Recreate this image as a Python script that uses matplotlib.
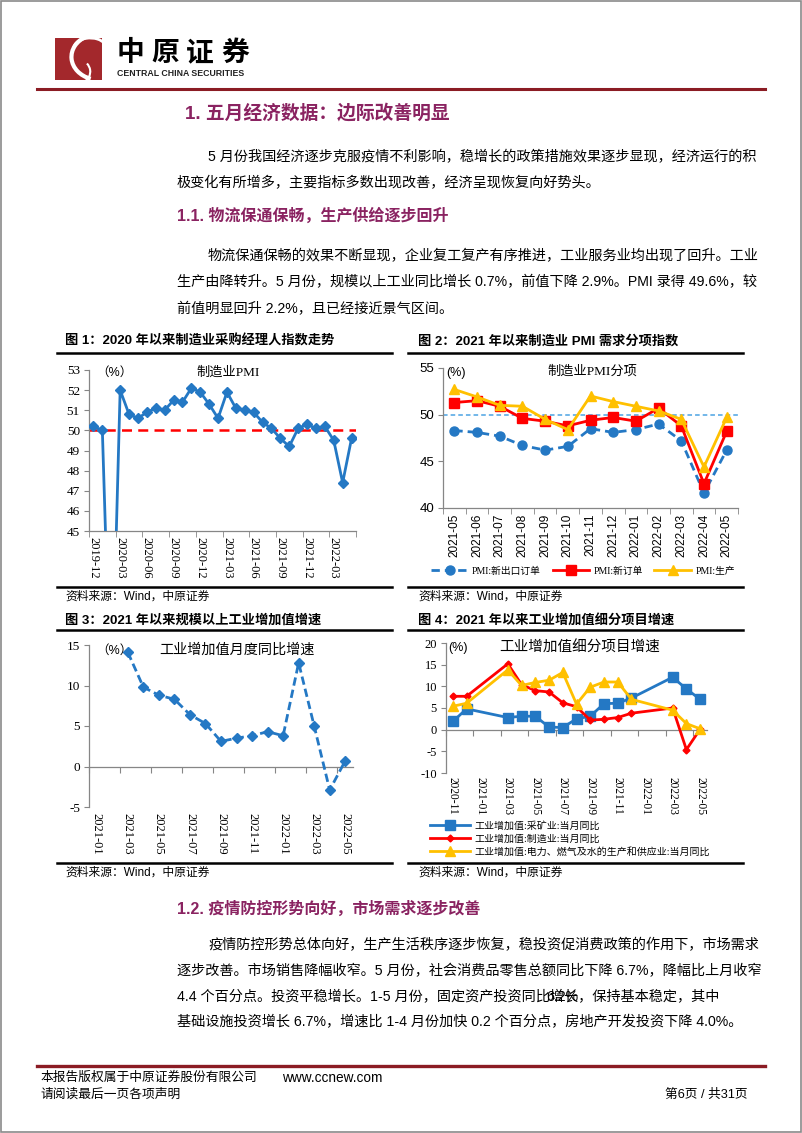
import numpy as np
import matplotlib
matplotlib.use("Agg")
import matplotlib.pyplot as plt
from matplotlib.lines import Line2D
from matplotlib.patches import Rectangle, Arc

# page size in pixels
W, H = 802, 1133

SANS = ['Liberation Sans', 'Noto Sans CJK SC']
SERIF = ['Liberation Serif', 'Noto Sans CJK SC']
GRAY = '#868686'
BLUE = '#2478C4'
RED = '#FF0000'
GOLD = '#FFC000'
HEAD = '#8A2361'
DARKRED = '#8B1C24'

# ---- 图1: 制造业PMI (2019-12 .. 2022-05)
pmi = [50.2, 50.0, 35.7, 52.0, 50.8, 50.6, 50.9, 51.1, 51.0, 51.5,
       51.4, 52.1, 51.9, 51.3, 50.6, 51.9, 51.1, 51.0, 50.9, 50.4,
       50.1, 49.6, 49.2, 50.1, 50.3, 50.1, 50.2, 49.5, 47.4, 49.6]
pmi_ticklabels = ['2019-12', '2020-03', '2020-06', '2020-09', '2020-12',
                  '2021-03', '2021-06', '2021-09', '2021-12', '2022-03']

# ---- 图2: PMI分项 (2021-05 .. 2022-05)
sub_months = ['2021-05', '2021-06', '2021-07', '2021-08', '2021-09', '2021-10', '2021-11',
              '2021-12', '2022-01', '2022-02', '2022-03', '2022-04', '2022-05']
pmi_export = [48.3, 48.1, 47.7, 46.7, 46.2, 46.6, 48.5, 48.1, 48.4, 49.0, 47.2, 41.6, 46.2]
pmi_neworder = [51.3, 51.5, 50.9, 49.6, 49.3, 48.8, 49.4, 49.7, 49.3, 50.7, 48.8, 42.6, 48.2]
pmi_output = [52.7, 51.9, 51.0, 50.9, 49.5, 48.4, 52.0, 51.4, 50.9, 50.4, 49.5, 44.4, 49.7]

# ---- 图3: 工业增加值当月同比 (2021-01 .. 2022-05)
ip_yoy = [np.nan, np.nan, 14.1, 9.8, 8.8, 8.3, 6.4, 5.3, 3.1, 3.5,
          3.8, 4.3, 3.8, 12.8, 5.0, -2.9, 0.7]
ip_ticklabels = ['2021-01', '2021-03', '2021-05', '2021-07', '2021-09',
                 '2021-11', '2022-01', '2022-03', '2022-05']

# ---- 图4: 细分项目 (2020-11 .. 2022-05)
mining = [1.9, 4.8, np.nan, np.nan, 2.8, 3.1, 3.1, 0.6, 0.5, 2.5,
          3.1, 6.0, 6.1, 7.3, np.nan, np.nan, 12.1, 9.4, 7.0]
manuf = [7.7, 7.7, np.nan, np.nan, 15.2, 10.4, 9.0, 8.7, 6.2, 5.3,
         2.2, 2.4, 2.8, 3.8, np.nan, np.nan, 5.0, -4.6, 0.1]
utility = [5.4, 6.1, np.nan, np.nan, 13.8, 10.2, 10.9, 11.4, 13.2, 5.9,
           9.8, 11.0, 11.0, 7.0, np.nan, np.nan, 4.5, 1.4, 0.2]
seg_ticklabels = ['2020-11', '2021-01', '2021-03', '2021-05', '2021-07',
                  '2021-09', '2021-11', '2022-01', '2022-03', '2022-05']

fig = plt.figure(figsize=(W / 100, H / 100), dpi=100)


def fx(x):
    return x / W


def fy(y):
    return 1 - y / H


def rect(l, t, r, b):
    return [fx(l), fy(b), (r - l) / W, (b - t) / H]


def hline(x0, x1, y, color='black', lw=1.5):
    fig.add_artist(Line2D([fx(x0), fx(x1)], [fy(y), fy(y)], transform=fig.transFigure,
                          color=color, lw=lw))


def txt(x, y, s, size=10.2, family=SANS, color='black', weight='normal', ha='left', va='center'):
    return fig.text(fx(x), fy(y), s, fontsize=size, family=family, color=color,
                    fontweight=weight, ha=ha, va=va)


# page frame
fig.add_artist(Rectangle((0.0008, 0.001), 0.998, 0.998, transform=fig.transFigure,
                         fill=False, edgecolor='#8a8a8a', lw=1.2))

# ---- header / logo
lax = fig.add_axes(rect(55, 38, 102, 80))
lax.set_xlim(0, 1)
lax.set_ylim(0, 1)
lax.axis('off')
lax.add_patch(Rectangle((0, 0), 1, 1, color='#A3282C'))
lax.add_patch(Arc((0.95, 0.55), 1.2, 1.1, theta1=120, theta2=250, color='white', lw=3))
lax.add_patch(Arc((0.75, 0.75), 0.7, 0.5, theta1=20, theta2=180, color='white', lw=2))
lax.add_patch(Arc((0.45, 0.2), 0.6, 0.6, theta1=270, theta2=40, color='white', lw=1.5))
for i, ch in enumerate('中原证券'):
    txt(130 + i * 35, 54, ch, size=20, weight='bold', ha='center')
txt(181, 74, 'CENTRAL CHINA SECURITIES', size=6.3, family=['Liberation Sans'], weight='bold',
    ha='center', color='#222222')
hline(37, 765, 89, DARKRED, 2.2)

# ---- body text
txt(185, 113, '1. 五月经济数据：边际改善明显', size=13.5, color=HEAD, weight='bold')
txt(208, 157, '5 月份我国经济逐步克服疫情不利影响，稳增长的政策措施效果逐步显现，经济运行的积')
txt(177, 183, '极变化有所增多，主要指标多数出现改善，经济呈现恢复向好势头。')
txt(177, 216, '1.1. 物流保通保畅，生产供给逐步回升', size=11.5, color=HEAD, weight='bold')
txt(208, 256, '物流保通保畅的效果不断显现，企业复工复产有序推进，工业服务业均出现了回升。工业')
txt(177, 282, '生产由降转升。5 月份，规模以上工业同比增长 0.7%，前值下降 2.9%。PMI 录得 49.6%，较')
txt(177, 309, '前值明显回升 2.2%，且已经接近景气区间。')

txt(177, 909, '1.2. 疫情防控形势向好，市场需求逐步改善', size=11.5, color=HEAD, weight='bold')
txt(208, 945, '疫情防控形势总体向好，生产生活秩序逐步恢复，稳投资促消费政策的作用下，市场需求')
txt(177, 971, '逐步改善。市场销售降幅收窄。5 月份，社会消费品零售总额同比下降 6.7%，降幅比上月收窄')
# the source page prints "6.2%" on top of "比增" in this line
txt(177, 997, '4.4 个百分点。投资平稳增长。1-5 月份，固定资产投资同比增长，保持基本稳定，其中')
txt(546, 997, '6.2%')
txt(177, 1022, '基础设施投资增长 6.7%，增速比 1-4 月份加快 0.2 个百分点，房地产开发投资下降 4.0%。')

# footer
hline(37, 765, 1066, DARKRED, 2.4)
txt(40, 1078, '本报告版权属于中原证券股份有限公司', size=9.2)
txt(282, 1078, 'www.ccnew.com', size=9.8)
txt(40, 1095, '请阅读最后一页各项声明', size=9.2)
txt(748, 1095, '第6页 / 共31页', size=9.2, ha='right')

# ---- figure titles, rules, sources
txt(65, 341, '图 1：2020 年以来制造业采购经理人指数走势', size=9.5, weight='bold')
txt(418, 341, '图 2：2021 年以来制造业 PMI 需求分项指数', size=9.5, weight='bold')
txt(65, 620, '图 3：2021 年以来规模以上工业增加值增速', size=9.5, weight='bold')
txt(418, 620, '图 4：2021 年以来工业增加值细分项目增速', size=9.5, weight='bold')
for y in (353, 587, 630, 863):
    hline(57, 392, y, 'black', 1.8)
    hline(408, 743, y, 'black', 1.8)
for y in (597, 873):
    txt(65, y, '资料来源：Wind，中原证券', size=8.5)
    txt(418, y, '资料来源：Wind，中原证券', size=8.5)


def style(ax):
    for s in ('top', 'right'):
        ax.spines[s].set_visible(False)
    for s in ('left', 'bottom'):
        ax.spines[s].set_color(GRAY)
        ax.spines[s].set_linewidth(0.9)
    ax.tick_params(axis='y', direction='out', length=3.5, color=GRAY, pad=3)
    ax.tick_params(axis='x', which='major', length=0, pad=4)
    ax.tick_params(axis='x', which='minor', direction='out', length=4, color=GRAY)


# ---- chart 1
ax1 = fig.add_axes(rect(89, 370, 356, 531))
x1 = np.arange(len(pmi))
ax1.plot(x1, pmi, color=BLUE, lw=2, marker='D', ms=5.5, zorder=3)
ax1.axhline(50, color=RED, lw=1.8, ls=(0, (4, 2.5)), zorder=2)
ax1.set_xlim(-0.5, len(pmi) - 0.5)
ax1.set_ylim(45, 53)
ax1.set_yticks(range(45, 54), [str(v) for v in range(45, 54)], fontfamily=SERIF, fontsize=9.5)
ax1.set_xticks(np.arange(0, len(pmi), 3), pmi_ticklabels, rotation=-90,
               fontfamily=SERIF, fontsize=9)
ax1.set_xticks(np.arange(-0.5, len(pmi), 3), minor=True)
style(ax1)
txt(96, 373, '（%）', size=9)
txt(228, 373, '制造业PMI', size=9.5, family=SERIF, ha='center')

# ---- chart 2
ax2 = fig.add_axes(rect(443, 368, 738, 508))
x2 = np.arange(len(sub_months))
ax2.axhline(50, color='#4BA3E3', lw=1.1, ls=(0, (3, 2)), zorder=1)
ax2.plot(x2, pmi_export, color=BLUE, lw=2, ls=(0, (3, 1.8)), marker='o', ms=6.5,
         label='PMI:新出口订单', zorder=3)
ax2.plot(x2, pmi_neworder, color=RED, lw=2, marker='s', ms=7, label='PMI:新订单', zorder=4)
ax2.plot(x2, pmi_output, color=GOLD, lw=2, marker='^', ms=7, label='PMI:生产', zorder=5)
ax2.set_xlim(-0.5, len(sub_months) - 0.5)
ax2.set_ylim(40, 55)
ax2.set_yticks([40, 45, 50, 55], ['40', '45', '50', '55'], fontfamily=SANS, fontsize=9.5)
ax2.set_xticks(x2, sub_months, rotation=90, fontfamily=SANS, fontsize=8.5)
ax2.set_xticks(np.arange(-0.5, len(sub_months), 1), minor=True)
style(ax2)
ax2.legend(loc='center', bbox_to_anchor=(fx(583), fy(571)), bbox_transform=fig.transFigure,
           ncol=3, frameon=False, prop={'family': SERIF, 'size': 7}, handlelength=3.8,
           columnspacing=1.2, handletextpad=0.4, borderaxespad=0, borderpad=0)
txt(446, 373, '(%)', size=9, ha='left')
txt(592, 372, '制造业PMI分项', size=9.5, family=SERIF, ha='center')

# ---- chart 3
ax3 = fig.add_axes(rect(89, 645, 353, 807))
x3 = np.arange(len(ip_yoy))
ax3.plot(x3, ip_yoy, color=BLUE, lw=2, ls=(0, (3, 1.5)), marker='D', ms=5.5, zorder=3)
ax3.set_xlim(-0.5, len(ip_yoy) - 0.5)
ax3.set_ylim(-5, 15)
ax3.set_yticks([-5, 0, 5, 10, 15], ['-5', '0', '5', '10', '15'], fontfamily=SERIF, fontsize=9.5)
ax3.set_xticks(np.arange(0, len(ip_yoy), 2), ip_ticklabels, rotation=-90,
               fontfamily=SERIF, fontsize=9)
style(ax3)
ax3.spines['bottom'].set_visible(False)
# zero line carries the category tick marks, labels stay at the bottom
z3 = ax3.secondary_xaxis(5 / 20)
z3.set_xticks(np.arange(-0.5, len(ip_yoy), 2))
z3.tick_params(axis='x', direction='out', length=4, color=GRAY, labelbottom=False)
for s in z3.spines.values():
    s.set_color(GRAY)
    s.set_linewidth(0.9)
txt(96, 651, '（%）', size=9)
txt(237, 650, '工业增加值月度同比增速', size=10.2, ha='center')

# ---- chart 4
ax4 = fig.add_axes(rect(446, 643, 707, 773))
x4 = np.arange(len(mining))
series4 = [(mining, BLUE, 's', 6.5, '工业增加值:采矿业:当月同比'),
           (manuf, RED, 'D', 3.5, '工业增加值:制造业:当月同比'),
           (utility, GOLD, '^', 7, '工业增加值:电力、燃气及水的生产和供应业:当月同比')]
for vals, c, m, ms, lab in series4:
    v = np.array(vals)
    ok = ~np.isnan(v)
    ax4.plot(x4[ok], v[ok], color=c, lw=2, marker=m, ms=ms, label=lab, zorder=3)
ax4.set_xlim(-0.5, len(mining) - 0.5)
ax4.set_ylim(-10, 20)
ax4.set_yticks(range(-10, 21, 5), [str(v) for v in range(-10, 21, 5)],
               fontfamily=SERIF, fontsize=9)
ax4.set_xticks(np.arange(0, len(mining), 2), seg_ticklabels, rotation=-90,
               fontfamily=SERIF, fontsize=8.3)
ax4.tick_params(axis='x', which='major', pad=3)
style(ax4)
ax4.tick_params(axis='x', which='major', pad=3)
ax4.spines['bottom'].set_visible(False)
z4 = ax4.secondary_xaxis(10 / 30)
z4.set_xticks(np.arange(-0.5, len(mining), 2))
z4.tick_params(axis='x', direction='out', length=4, color=GRAY, labelbottom=False)
for s in z4.spines.values():
    s.set_color(GRAY)
    s.set_linewidth(0.9)
ax4.legend(loc='upper left', bbox_to_anchor=(fx(430), fy(821)), bbox_transform=fig.transFigure,
           frameon=False, prop={'family': SERIF, 'size': 7.2}, handlelength=4,
           labelspacing=0.35, handletextpad=0.4, borderaxespad=0, borderpad=0)
txt(448, 648, '(%)', size=9)
txt(580, 648, '工业增加值细分项目增速', size=10.5, ha='center')

fig.savefig('out.png', dpi=100)
